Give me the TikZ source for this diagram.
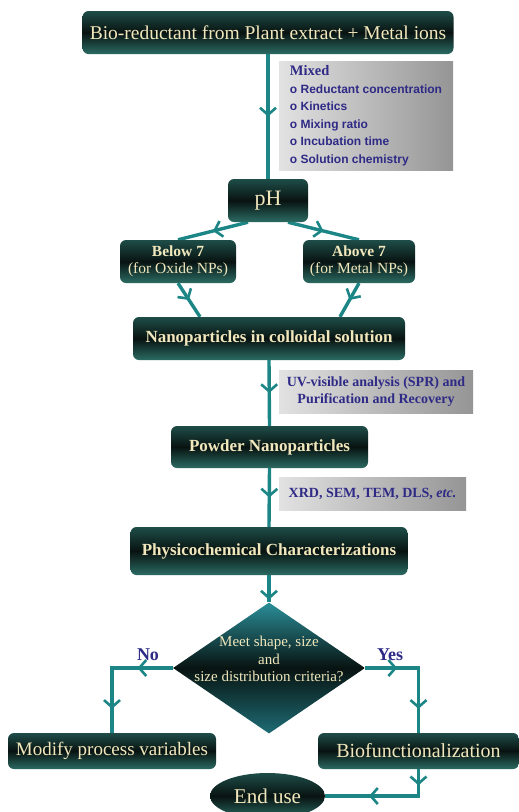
\documentclass[tikz,border=0pt]{standalone}
\usepackage{fontspec}
\setmainfont{Liberation Serif}
\newfontfamily\notesans{Liberation Sans}
\usetikzlibrary{arrows.meta,decorations.markings,shapes.geometric,calc}
\definecolor{flowteal}{HTML}{1C8585}
\definecolor{boxtop}{HTML}{1E4D48}
\definecolor{boxmid}{HTML}{081311}
\definecolor{boxbot}{HTML}{2B6B63}
\definecolor{dmtop}{HTML}{2A8E98}
\definecolor{dmbot}{HTML}{1E6C74}
\definecolor{cream}{HTML}{F1E7BC}
\definecolor{noteblue}{HTML}{2E2A86}
\definecolor{notelight}{HTML}{E2E2E2}
\definecolor{notedark}{HTML}{959595}
\pgfdeclarelayer{bg}
\pgfsetlayers{bg,main}
\begin{document}
\begin{tikzpicture}[x=1pt,y=-1pt,
  stepbox/.style={rectangle, rounded corners=6pt, top color=boxtop,
    bottom color=boxbot, middle color=boxmid, text=cream,
    inner sep=0pt, align=center},
  note/.style={rectangle, left color=notelight, right color=notedark,
    text=noteblue, inner sep=0pt, align=center,
    font=\bfseries\fontsize{14}{17}\selectfont},
  flow/.style={draw=flowteal, line width=3.4pt},
  barb/.style={postaction={decorate}, decoration={markings,
    mark=at position #1 with {\arrow[flowteal, line width=2.6pt]{Straight Barb[length=7pt,width=16pt]}}}},
  barb/.default=0.5,
  answer/.style={text=noteblue, font=\bfseries\fontsize{18}{20}\selectfont}]

\useasboundingbox (0,0) rectangle (519,812);

% process steps
\node[stepbox, minimum width=371pt, minimum height=43pt,
  font=\fontsize{19.5}{22}\selectfont] (src) at (268,32.5)
  {Bio-reductant from Plant extract + Metal ions};
\node[note, minimum width=174pt, minimum height=109pt, align=left,
  font=\fontsize{12}{17.5}\selectfont] (mix) at (366,115.5)
  {{\bfseries\fontsize{14.5}{17.5}\selectfont Mixed}\\
   {\notesans\bfseries o Reductant concentration}\\
   {\notesans\bfseries o Kinetics}\\
   {\notesans\bfseries o Mixing ratio}\\
   {\notesans\bfseries o Incubation time}\\
   {\notesans\bfseries o Solution chemistry}};
\node[stepbox, minimum width=80pt, minimum height=43pt,
  font=\fontsize{22}{24}\selectfont] (ph) at (268,200.5) {pH};
\node[stepbox, minimum width=116pt, minimum height=43pt,
  font=\fontsize{15.5}{16.5}\selectfont] (below) at (178,261.5)
  {\textbf{Below 7}\\(for Oxide NPs)};
\node[stepbox, minimum width=112pt, minimum height=43pt,
  font=\fontsize{15.5}{16.5}\selectfont] (above) at (359,261.5)
  {\textbf{Above 7}\\(for Metal NPs)};
\node[stepbox, minimum width=272pt, minimum height=43pt,
  font=\bfseries\fontsize{17}{19}\selectfont] (coll) at (269,338.5)
  {Nanoparticles in colloidal solution};
\node[note, minimum width=194pt, minimum height=43pt] (uv) at (376,391.5)
  {UV-visible analysis (SPR) and\\Purification and Recovery};
\node[stepbox, minimum width=197pt, minimum height=42pt,
  font=\bfseries\fontsize{17}{19}\selectfont] (powder) at (269.5,447)
  {Powder Nanoparticles};
\node[note, minimum width=187pt, minimum height=33pt] (xrd) at (372.5,493.5)
  {XRD, SEM, TEM, DLS, \textit{etc.}};
\node[stepbox, minimum width=277pt, minimum height=48pt,
  font=\bfseries\fontsize{17}{19}\selectfont] (phys) at (269,551)
  {Physicochemical Characterizations};

% decision
\node[diamond, minimum width=192pt, minimum height=131pt, inner sep=0pt,
  top color=dmtop, bottom color=dmbot, middle color=boxmid] (dec) at (269,668) {};
\node[text=cream, align=center, font=\fontsize{15}{17.5}\selectfont] (dectext)
  at ($(dec.center)+(0,-9)$) {Meet shape, size\\and\\size distribution criteria?};
\node[answer] (no) at (148,655) {No};
\node[answer] (yes) at (390,655) {Yes};

\node[stepbox, minimum width=208pt, minimum height=36pt,
  font=\fontsize{19}{21}\selectfont] (modify) at (112,751)
  {Modify process variables};
\node[stepbox, minimum width=201pt, minimum height=36pt,
  font=\fontsize{20}{22}\selectfont] (bio) at (418.5,751)
  {Biofunctionalization};
\node[ellipse, minimum width=115pt, minimum height=46pt, inner sep=0pt,
  top color=boxtop, bottom color=boxbot, middle color=boxmid, text=cream,
  font=\fontsize{21}{23}\selectfont] (end) at (267.5,796) {End use};

\coordinate (nocorner) at (modify.north |- dec.west);
\coordinate (yescorner) at (bio.north |- dec.east);
\coordinate (endcorner) at (bio.south |- end.east);

% connectors
\begin{pgfonlayer}{bg}
  \draw[flow, barb] (src.south) -- (ph.north);
  \draw[flow, barb] ($(ph.south)+(-20,0)$) -- (below.north);
  \draw[flow, barb] ($(ph.south)+(20,0)$) -- (above.north);
  \draw[flow, barb] (below.south) -- ($(coll.north)+(-69,0)$);
  \draw[flow, barb] (above.south) -- ($(coll.north)+(71,0)$);
  \draw[flow, barb] (coll.south) -- (powder.north);
  \draw[flow, barb] (powder.south) -- (phys.north);
  \draw[flow, barb=0.9] (phys.south) -- (dec.north);
  \draw[flow, line join=miter] (dec.west) -- (nocorner) -- (modify.north);
  \path[barb=0.58] (dec.west) -- (nocorner);
  \path[barb=0.63] (nocorner) -- (modify.north);
  \draw[flow, line join=miter] (dec.east) -- (yescorner) -- (bio.north);
  \path[barb=0.6] (dec.east) -- (yescorner);
  \path[barb=0.63] (yescorner) -- (bio.north);
  \draw[flow, line join=miter] (bio.south) -- (endcorner) -- (end.east);
  \path[barb=0.6] (bio.south) -- (endcorner);
  \path[barb=0.53] (endcorner) -- (end.east);
\end{pgfonlayer}
\end{tikzpicture}
\end{document}
